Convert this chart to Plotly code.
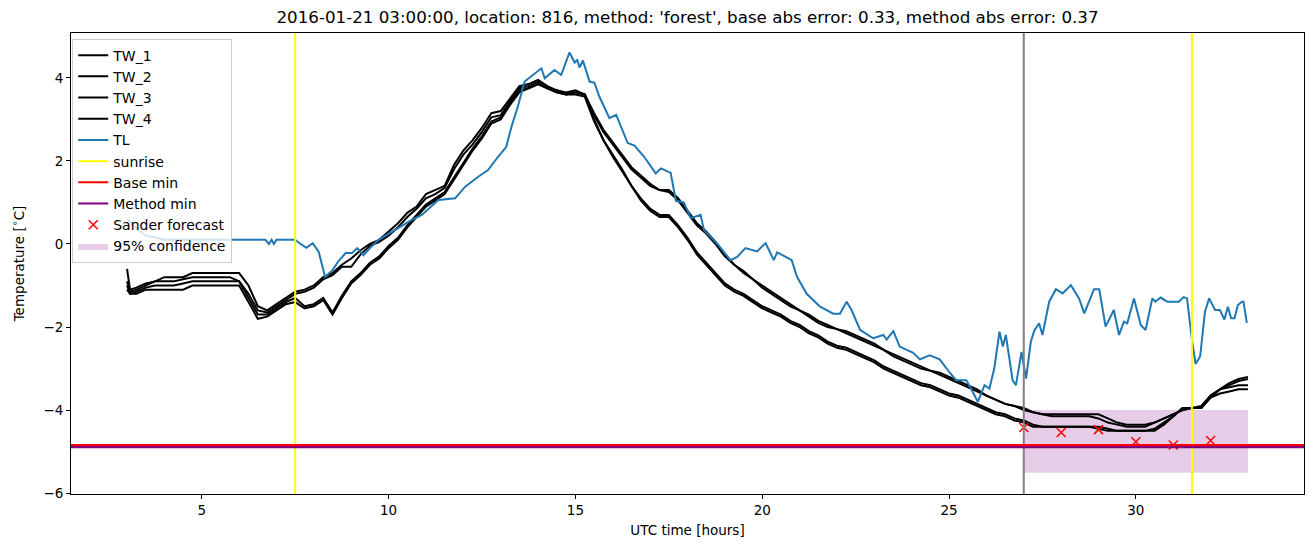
import plotly.graph_objects as go

# ---------------- data ----------------
tl_hours = [3.0, 3.15, 3.35, 3.5, 3.8, 4.0, 6.7, 6.8, 6.87, 6.93, 7.0, 7.5, 7.6, 7.8, 7.97, 8.13,
            8.3, 8.5, 8.66, 8.85, 9.02, 9.16, 9.33, 9.5, 9.73, 10.18, 10.62, 10.89, 11.33, 11.78,
            12.05, 12.4, 12.66, 12.93, 13.15, 13.29, 13.46, 13.64, 13.91, 14.09, 14.18, 14.44,
            14.62, 14.84, 14.98, 15.05, 15.11, 15.2, 15.38, 15.51, 15.64, 15.91, 16.09, 16.4,
            16.58, 16.84, 17.15, 17.29, 17.55, 17.69, 17.9, 18.09, 18.35, 18.44, 18.8, 19.15,
            19.33, 19.55, 19.86, 20.09, 20.31, 20.4, 20.79, 20.93, 21.19, 21.55, 21.9, 22.08,
            22.26, 22.39, 22.62, 22.97, 23.24, 23.33, 23.51, 23.68, 24.04, 24.22, 24.48, 24.75,
            25.02, 25.19, 25.46, 25.55, 25.77, 25.95, 26.08, 26.21, 26.35, 26.44, 26.52, 26.7,
            26.79, 26.94, 27.06, 27.19, 27.28, 27.41, 27.5, 27.68, 27.86, 28.04, 28.26, 28.48,
            28.62, 28.88, 29.02, 29.19, 29.41, 29.55, 29.68, 29.77, 29.95, 30.13, 30.26, 30.44,
            30.52, 30.66, 30.84, 31.15, 31.28, 31.37, 31.5, 31.6, 31.72, 31.85, 31.96, 32.12,
            32.25, 32.37, 32.46, 32.55, 32.64, 32.73, 32.84, 32.88, 32.97]
tl_temp = [0.6, 0.45, 0.3, 0.2, 0.15, 0.1, 0.1, 0.0, 0.1, 0.0, 0.1, 0.1, 0.03, -0.09, 0.02, -0.19,
           -0.79, -0.63, -0.41, -0.22, -0.22, -0.1, -0.27, -0.1, 0.1, 0.34, 0.58, 0.7, 1.06, 1.1,
           1.38, 1.62, 1.78, 2.1, 2.34, 2.83, 3.31, 3.91, 4.11, 4.23, 3.99, 4.19,
           4.07, 4.61, 4.37, 4.43, 4.25, 4.42, 3.91, 3.88, 3.55, 3.03, 3.11, 2.43,
           2.37, 2.1, 1.7, 1.82, 1.71, 1.04, 1.0, 0.62, 0.7, 0.34, 0.0, -0.39,
           -0.31, -0.1, -0.18, 0.02, -0.39, -0.2, -0.39, -0.79, -1.2, -1.51, -1.68, -1.68,
           -1.39, -1.59, -2.07, -2.27, -2.19, -2.3, -2.1, -2.47, -2.62, -2.78, -2.68, -2.78,
           -3.1, -3.28, -3.28, -3.42, -3.8, -3.4, -3.48, -3.0, -2.11, -2.47, -2.19, -3.28,
           -3.4, -2.6, -3.24, -2.35, -2.09, -1.91, -2.19, -1.39, -1.09, -1.19, -0.99, -1.31,
           -1.67, -1.09, -1.09, -1.99, -1.59, -2.19, -1.87, -1.91, -1.31, -1.95, -2.07, -1.31,
           -1.39, -1.29, -1.39, -1.39, -1.28, -1.31, -2.31, -2.89, -2.71, -1.63, -1.31, -1.59,
           -1.59, -1.82, -1.51, -1.79, -1.79, -1.47, -1.39, -1.39, -1.9]

tw_hours = [3.0, 3.08] + [3.25 + 0.25 * i for i in range(120)]
tw_1 = [-0.6, -1.1, -1.05, -0.95, -0.9,
        -0.8, -0.8, -0.8, -0.7,  -0.7, -0.7, -0.7, -0.7,  -0.7, -1.0, -1.5, -1.6,
        -1.45, -1.3, -1.15, -1.1,  -1.0, -0.8, -0.7, -0.5,  -0.35, -0.15, 0.0, 0.1,
        0.3, 0.5, 0.75, 0.9,  1.2, 1.3, 1.4, 1.9,  2.25, 2.5, 2.8, 3.15,
        3.2, 3.5, 3.8, 3.85,  3.95, 3.8, 3.7, 3.65,  3.7, 3.6, 3.15, 2.75,
        2.45, 2.15, 1.85, 1.65,  1.45, 1.3, 1.3, 1.1,  0.8, 0.5, 0.3, 0.05,
        -0.25, -0.5, -0.65, -0.85,  -1.0, -1.15, -1.3, -1.45,  -1.6, -1.7, -1.85, -1.95,
        -2.05, -2.1, -2.2, -2.3,  -2.4, -2.55, -2.65, -2.75,  -2.85, -2.95, -3.05, -3.1,
        -3.2, -3.3, -3.4, -3.5,  -3.65, -3.75, -3.85, -3.9,  -3.95, -4.05, -4.1, -4.1,
        -4.1, -4.1, -4.1, -4.1,  -4.1, -4.2, -4.3, -4.35,  -4.35, -4.35, -4.3, -4.2,
        -4.1, -4.0, -3.95, -3.95,  -3.7, -3.5, -3.35, -3.25,  -3.2]
tw_2 = [-0.9, -1.15, -1.1, -1.0, -0.9,
        -0.9, -0.9, -0.85, -0.8,  -0.8, -0.8, -0.8, -0.8,  -0.9, -1.2, -1.6, -1.65,
        -1.5, -1.35, -1.2, -1.15,  -1.05, -0.85, -0.75, -0.55,  -0.55, -0.25, -0.05, 0.05,
        0.2, 0.4, 0.65, 0.85,  1.1, 1.2, 1.35, 1.8,  2.15, 2.4, 2.7, 3.05,
        3.1, 3.45, 3.75, 3.8,  3.9, 3.75, 3.7, 3.6,  3.65, 3.6, 3.1, 2.7,
        2.4, 2.1, 1.8, 1.6,  1.4, 1.3, 1.25, 1.05,  0.75, 0.45, 0.25, 0.0,
        -0.3, -0.5, -0.7, -0.85,  -1.05, -1.2, -1.35, -1.5,  -1.6, -1.75, -1.9, -2.0,
        -2.05, -2.15, -2.25, -2.35,  -2.45, -2.55, -2.7, -2.8,  -2.9, -3.0, -3.05, -3.15,
        -3.25, -3.35, -3.45, -3.55,  -3.65, -3.75, -3.85, -3.9,  -4.0, -4.05, -4.1, -4.15,
        -4.15, -4.15, -4.15, -4.15,  -4.2, -4.3, -4.35, -4.4,  -4.4, -4.4, -4.3, -4.2,
        -4.1, -4.0, -3.95, -3.95,  -3.65, -3.5, -3.4, -3.3,  -3.25]
tw_3 = [-1.0, -1.2, -1.15, -1.05, -1.0,
        -1.0, -1.0, -0.95, -0.9,  -0.9, -0.9, -0.9, -0.9,  -0.9, -1.3, -1.7, -1.7,
        -1.55, -1.4, -1.3, -1.5,  -1.45, -1.3, -1.65, -1.25,  -0.9, -0.7, -0.45, -0.3,
        -0.05, 0.15, 0.45, 0.7,  0.95, 1.1, 1.25, 1.6,  1.95, 2.3, 2.6, 2.95,
        3.05, 3.4, 3.7, 3.75,  3.85, 3.75, 3.65, 3.6,  3.65, 3.6, 3.0, 2.5,
        2.15, 1.8, 1.4, 1.1,  0.85, 0.7, 0.7, 0.45,  0.15, -0.2, -0.45, -0.7,
        -0.95, -1.1, -1.2, -1.35,  -1.5, -1.6, -1.7, -1.85,  -1.95, -2.1, -2.2, -2.35,
        -2.45, -2.5, -2.6, -2.7,  -2.8, -2.95, -3.05, -3.15,  -3.25, -3.35, -3.4, -3.5,
        -3.6, -3.65, -3.75, -3.85,  -3.95, -4.05, -4.1, -4.2,  -4.25, -4.35, -4.4, -4.4,
        -4.4, -4.4, -4.4, -4.4,  -4.4, -4.45, -4.5, -4.5,  -4.5, -4.5, -4.45, -4.3,
        -4.15, -3.95, -3.95, -3.9,  -3.65, -3.5, -3.45, -3.4,  -3.4]
tw_4 = [-1.1, -1.2, -1.2, -1.1, -1.1,
        -1.1, -1.1, -1.1, -1.0,  -1.0, -1.0, -1.0, -1.0,  -1.0, -1.4, -1.8, -1.75,
        -1.6, -1.45, -1.4, -1.55,  -1.5, -1.35, -1.7, -1.3,  -0.95, -0.75, -0.5, -0.35,
        -0.1, 0.1, 0.4, 0.65,  0.9, 1.05, 1.2, 1.55,  1.9, 2.25, 2.55, 2.9,
        3.0, 3.35, 3.65, 3.75,  3.85, 3.75, 3.65, 3.6,  3.6, 3.55, 2.95, 2.5,
        2.1, 1.75, 1.4, 1.05,  0.8, 0.65, 0.65, 0.4,  0.1, -0.25, -0.5, -0.75,
        -1.0, -1.15, -1.25, -1.4,  -1.55, -1.65, -1.75, -1.9,  -2.0, -2.15, -2.25, -2.4,
        -2.5, -2.55, -2.65, -2.75,  -2.85, -3.0, -3.1, -3.2,  -3.3, -3.4, -3.45, -3.55,
        -3.65, -3.7, -3.8, -3.9,  -4.0, -4.1, -4.15, -4.25,  -4.3, -4.4, -4.4, -4.4,
        -4.4, -4.4, -4.4, -4.4,  -4.45, -4.5, -4.5, -4.5,  -4.5, -4.5, -4.5, -4.35,
        -4.15, -3.95, -3.95, -3.95,  -3.7, -3.6, -3.55, -3.5,  -3.5]

sunrise_hours = [7.5, 31.5]
forecast_start = 27.0
base_min = -4.84
method_min = -4.89
sander_hours = [27, 28, 29, 30, 31, 32]
sander_temp = [-4.42, -4.54, -4.47, -4.76, -4.84, -4.73]
conf_hours = [27.0, 33.0]
conf_low = -5.51
conf_high = -4.0

title = ("2016-01-21 03:00:00, location: 816, method: 'forest', "
         "base abs error: 0.33, method abs error: 0.37")

FONT = "DejaVu Sans"
fig = go.Figure()

# confidence band (drawn first, listed last in legend)
fig.add_trace(go.Scatter(
    x=[conf_hours[0], conf_hours[1], conf_hours[1], conf_hours[0], conf_hours[0]],
    y=[conf_low, conf_low, conf_high, conf_high, conf_low],
    fill="toself", fillcolor="rgba(128,0,128,0.2)", mode="lines",
    line=dict(width=0, color="rgba(128,0,128,0)"),
    name="95% confidence", legendrank=10, legendgroup="g10", hoverinfo="skip"))

for i, (nm, ys) in enumerate([("TW_1", tw_1), ("TW_2", tw_2), ("TW_3", tw_3), ("TW_4", tw_4)]):
    fig.add_trace(go.Scatter(x=tw_hours, y=ys, mode="lines", name=nm,
                             line=dict(color="black", width=2), legendrank=1 + i,
                             legendgroup="g%d" % (1 + i)))

fig.add_trace(go.Scatter(x=tl_hours, y=tl_temp, mode="lines", name="TL",
                         line=dict(color="#1f77b4", width=2), legendrank=5, legendgroup="g5"))

# legend-only handles for the reference lines
for nm, col, rk in [("sunrise", "yellow", 6), ("Base min", "red", 7), ("Method min", "purple", 8)]:
    fig.add_trace(go.Scatter(x=[None], y=[None], mode="lines", name=nm,
                             line=dict(color=col, width=2), legendrank=rk, legendgroup="g%d" % rk))

fig.add_trace(go.Scatter(x=sander_hours, y=sander_temp, mode="markers", name="Sander forecast",
                         marker=dict(symbol="x-thin", size=9, line=dict(color="red", width=1.5),
                                     color="red"), legendrank=9, legendgroup="g9"))

shapes = []
for h in sunrise_hours:
    shapes.append(dict(type="line", xref="x", yref="paper", x0=h, x1=h, y0=0, y1=1,
                       line=dict(color="yellow", width=2), layer="above"))
shapes.append(dict(type="line", xref="x", yref="paper", x0=forecast_start, x1=forecast_start,
                   y0=0, y1=1, line=dict(color="gray", width=2), layer="above"))
shapes.append(dict(type="line", xref="paper", yref="y", x0=0, x1=1, y0=base_min, y1=base_min,
                   line=dict(color="red", width=2.2), layer="above"))
shapes.append(dict(type="line", xref="paper", yref="y", x0=0, x1=1, y0=method_min, y1=method_min,
                   line=dict(color="purple", width=2.2), layer="above"))

# the page body has an 8px margin, so the figure is sized to fit inside the window
W, H = 1297, 531
fig.update_layout(
    width=W, height=H,
    margin=dict(l=63, r=1, t=25, b=45, autoexpand=False),
    paper_bgcolor="white", plot_bgcolor="white",
    font=dict(family=FONT, size=14, color="black"),
    title=dict(text=title, x=0.5, xref="paper", xanchor="center",
               y=1 - 9.5 / H, yref="container", yanchor="middle",
               font=dict(family=FONT, size=16.7, color="black")),
    shapes=shapes,
    showlegend=True,
    legend=dict(x=0.001, y=0.988, xanchor="left", yanchor="top",
                bgcolor="rgba(255,255,255,0.8)", bordercolor="#cccccc", borderwidth=1,
                font=dict(family=FONT, size=14), traceorder="grouped",
                tracegroupgap=0),
)
fig.update_xaxes(range=[1.5, 34.5], tickvals=[5, 10, 15, 20, 25, 30], automargin=False,
                 showgrid=False, zeroline=False, showline=True, mirror=True,
                 linecolor="black", linewidth=1, ticks="outside", ticklen=4,
                 tickcolor="black", tickfont=dict(size=13.5),
                 title=dict(text="UTC time [hours]", font=dict(size=13.5), standoff=8))
fig.update_yaxes(range=[-6.02, 5.08], tickvals=[-6, -4, -2, 0, 2, 4], automargin=False,
                 showgrid=False, zeroline=False, showline=True, mirror=True,
                 linecolor="black", linewidth=1, ticks="outside", ticklen=4,
                 tickcolor="black", tickfont=dict(size=13.5),
                 title=dict(text="Temperature [<sup>∘</sup>C]", font=dict(size=13.5), standoff=15))

fig.write_html("out.html")
